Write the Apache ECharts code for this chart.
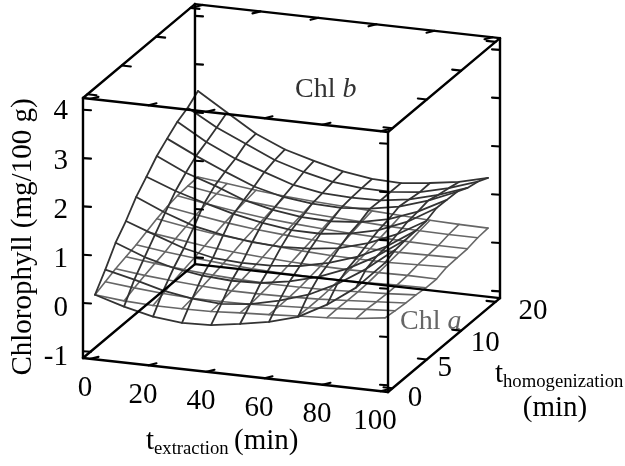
<!DOCTYPE html>
<html><head><meta charset="utf-8">
<script src="https://cdn.jsdelivr.net/npm/echarts@6/dist/echarts.min.js"></script>
<style>html,body{margin:0;background:#fff}#c{width:625px;height:466px}</style></head>
<body><div id="c"></div>
<script>
const extractionGrid = [0,10,20,30,40,50,60,70,80,90,100];
const homogenizationGrid = [0,0.3,0.6,0.9,1.2,1.5,1.8,2.1,2.4,2.7,3];
const chlB = [
[.11,-.07,-.21,-.27,-.25,-.16,-.05,.12,.44,.86,1.44],
[.45,.31,.15,.05,.01,.07,.21,.40,.69,1.07,1.53],
[.83,.60,.44,.35,.31,.33,.43,.59,.83,1.15,1.56],
[1.10,.88,.67,.54,.50,.51,.57,.70,.90,1.18,1.57],
[1.42,1.16,.95,.83,.75,.72,.75,.83,1.00,1.25,1.59],
[1.66,1.43,1.25,1.09,.97,.89,.88,.95,1.09,1.33,1.68],
[1.91,1.63,1.43,1.20,1.06,.98,.96,1.01,1.14,1.36,1.67],
[2.09,1.80,1.54,1.30,1.15,1.08,1.06,1.11,1.22,1.41,1.66],
[2.26,1.91,1.63,1.42,1.22,1.12,1.09,1.10,1.19,1.35,1.56],
[2.37,2.03,1.76,1.49,1.31,1.17,1.11,1.10,1.16,1.31,1.51],
[2.54,2.16,1.79,1.53,1.36,1.21,1.12,1.10,1.17,1.26,1.41]];
const chlA = [
[.11,.05,.02,.02,.03,.07,.10,.14,.17,.22,.30],
[.20,.14,.09,.06,.06,.07,.10,.13,.18,.23,.27],
[.29,.22,.17,.13,.10,.10,.11,.13,.17,.21,.25],
[.36,.29,.23,.18,.15,.13,.13,.14,.17,.20,.24],
[.43,.35,.29,.24,.20,.18,.17,.17,.18,.20,.21],
[.52,.44,.36,.30,.26,.23,.21,.20,.21,.22,.21],
[.61,.51,.43,.37,.32,.28,.25,.24,.24,.26,.28],
[.68,.58,.49,.42,.37,.33,.30,.28,.27,.28,.29],
[.73,.63,.54,.47,.42,.38,.35,.33,.31,.30,.30],
[.75,.66,.58,.52,.47,.44,.41,.38,.36,.35,.35],
[.76,.69,.62,.56,.52,.49,.46,.43,.40,.38,.37]];
const xTicks = [0,20,40,60,80,100];
const yTickPos = [0,1,2,3];
const yTickLabels = ['0','5','10','20'];
const zTicks = [-1,0,1,2,3,4];

// oblique view of the 3-D box, expressed in the pixel-valued 2-D axes below
const view = {X0:95, Xx:2.9, Xp:34.33, Y0:300.07, Yx:.3233, Yp:28.8, Yz:48.3};
const box = {x0:-2.59, x1:102.59, p0:-.131, p1:3.131, z0:-1.139, z1:4.244};
const P = (x,p,z) => [view.X0+view.Xx*x+view.Xp*p, view.Y0+view.Yx*x-view.Yp*p-view.Yz*z];

const series = [];
const line = (data,color,width) => series.push({type:'line',data,symbol:'none',silent:true,
  lineStyle:{color,width,cap:'round',join:'round'},z:width>2?3:2,animation:false});

function surface(rows,color,width){
  rows.forEach((row,j)=>line(row.map((v,i)=>P(extractionGrid[i],homogenizationGrid[j],v)),color,width));
  extractionGrid.forEach((x,i)=>line(rows.map((row,j)=>P(x,homogenizationGrid[j],row[i])),color,width));
}
surface(chlA,'#666666',1.6);
surface(chlB,'#333333',1.8);

const {x0,x1,p0,p1,z0,z1} = box;
[[[x0,p0,z0],[x1,p0,z0]],[[x1,p0,z0],[x1,p1,z0]],[[x1,p1,z0],[x0,p1,z0]],[[x0,p1,z0],[x0,p0,z0]],
 [[x0,p0,z1],[x1,p0,z1]],[[x1,p0,z1],[x1,p1,z1]],[[x1,p1,z1],[x0,p1,z1]],[[x0,p1,z1],[x0,p0,z1]],
 [[x0,p0,z0],[x0,p0,z1]],[[x1,p0,z0],[x1,p0,z1]],[[x1,p1,z0],[x1,p1,z1]],[[x0,p1,z0],[x0,p1,z1]]]
 .forEach(e=>line(e.map(a=>P(...a)),'#000',2.4));

const tick = (a,dx,dy)=>{const s=P(...a);line([s,[s[0]+dx,s[1]+dy]],'#000',2.1);};
xTicks.forEach(x=>{tick([x,p0,z0],8,-2);tick([x,p0,z1],8,-2);tick([x,p1,z1],-8,2);});
yTickPos.forEach(p=>{tick([x1,p,z0],-9,-1);tick([x1,p,z1],-9,-1);tick([x0,p,z1],9,1);});
zTicks.forEach(z=>{tick([x0,p0,z],8,.5);tick([x0,p1,z],8,.5);tick([x1,p0,z],-8,-.5);tick([x1,p1,z],-8,-.5);});

const serif = '"Liberation Serif","Times New Roman",serif';
const text = (x,y,t,o={}) => ({type:'text',x,y,silent:true,rotation:o.rot||0,z:10,style:{text:t,font:`${o.size||29}px ${serif}`,
  fill:o.fill||'#000',textAlign:o.align||'center',textVerticalAlign:'middle'}});
const graphic = [];
zTicks.forEach(z=>{const s=P(x0,p0,z);graphic.push(text(68,s[1]+2+(4-z)*.9,String(z),{align:'right'}));});
xTicks.forEach(x=>{const s=P(x,p0,z0);graphic.push(text(s[0]-5.5,s[1]+30,String(x)));});
yTickPos.forEach((p,i)=>{const s=P(x1,p,z0);graphic.push(text(s[0]+[22.5,18,24,37.5][i],s[1]+[10,9,13,9.5][i],yTickLabels[i]));});
graphic.push(
  text(23,237,'Chlorophyll (mg/100 g)',{rot:Math.PI/2}),
  text(146,441,'t',{align:'left'}),
  text(154,449,'extraction',{align:'left',size:18.7}),
  text(234,441,'(min)',{align:'left'}),
  text(495,374,'t',{align:'left'}),
  text(503,382,'homogenization',{align:'left',size:18.7}),
  text(555,408,'(min)'),
  {type:'text',x:295,y:90,silent:true,z:10,style:{text:'Chl {i|b}',font:`28px ${serif}`,fill:'#333',textVerticalAlign:'middle',
    rich:{i:{font:`italic 28px ${serif}`,fill:'#333'}}}},
  {type:'text',x:400,y:322,silent:true,z:10,style:{text:'Chl {i|a}',font:`28px ${serif}`,fill:'#666',textVerticalAlign:'middle',
    rich:{i:{font:`italic 28px ${serif}`,fill:'#666'}}}}
);

echarts.init(document.getElementById('c')).setOption({
  animation:false,backgroundColor:'#fff',
  grid:{left:0,right:0,top:0,bottom:0},
  xAxis:{type:'value',min:0,max:625,show:false},
  yAxis:{type:'value',min:0,max:466,inverse:true,show:false},
  series,graphic
});
</script></body></html>
